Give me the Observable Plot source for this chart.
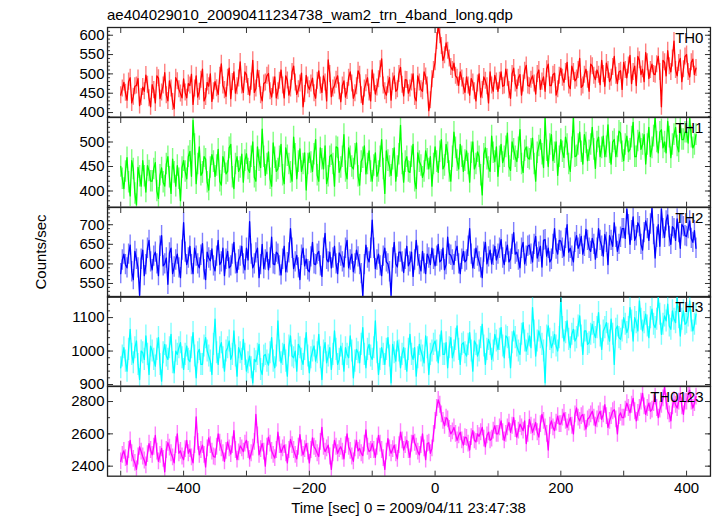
<!DOCTYPE html>
<html><head><meta charset="utf-8">
<script src="https://cdn.jsdelivr.net/npm/d3@7"></script>
<script src="https://cdn.jsdelivr.net/npm/@observablehq/plot@0.6"></script>
<style>
body{margin:0;background:#fff;}
#chart{position:relative;width:717px;height:516px;font-family:"Liberation Sans",Arial,Helvetica,sans-serif;color:#000;overflow:hidden;}
.title{position:absolute;left:107px;top:6px;font-size:15px;line-height:18px;white-space:nowrap;}
.ylab{position:absolute;left:41px;top:252px;transform:translate(-50%,-50%) rotate(-90deg);font-size:15px;line-height:18px;white-space:nowrap;}
.xlab{position:absolute;left:107px;width:603px;top:500px;text-align:center;font-size:15px;line-height:15px;white-space:nowrap;}
</style></head>
<body><div id="chart">
<div class="title">ae404029010_20090411234738_wam2_trn_4band_long.qdp</div>
<div class="ylab">Counts/sec</div>
<div class="xlab">Time [sec] 0 = 2009/04/11 23:47:38</div>
</div>
<script>
// readings at t = -500 + 5k ("a") and t = -497.5 + 5k ("b"), seconds
const tStartA = -500, tStartB = -497.5, tStep = 5;

const th0a = [
445,478,432,490,441,470,418,466,497,437,
472,425,489,452,503,430,462,410,481,449,
487,438,470,421,495,454,512,440,468,429,
480,447,526,458,490,436,505,468,531,452,
498,445,535,462,487,430,478,501,440,492,
455,510,438,483,462,520,447,475,415,496,
460,489,437,508,452,478,536,441,470,495,
428,482,456,505,437,468,498,421,476,452,
510,448,486,539,455,472,432,495,460,517,
443,484,462,500,430,478,455,493,405,486,
530,625,572,548,560,518,528,490,505,468,
492,445,478,430,500,458,482,425,470,496,
455,505,470,490,437,515,462,498,475,522,
468,495,448,510,480,455,525,470,502,460,
515,478,530,462,505,488,540,470,512,455,
520,485,498,535,468,510,490,545,475,508,
530,490,548,505,470,535,512,555,488,525,
498,545,415,530,560,505,585,495,540,512,
550,492,538,515];
const th0b = [
462,451,480,425,468,488,440,455,472,415,
458,495,436,470,445,482,427,490,460,438,
452,475,499,462,440,485,430,478,500,455,
463,495,470,442,515,479,450,488,470,505,
466,480,452,510,445,475,495,455,470,438,
482,470,495,445,505,478,460,502,448,470,
475,450,482,470,495,430,500,462,485,455,
470,440,490,475,450,508,445,462,490,430,
478,465,512,470,445,490,480,455,500,472,
485,450,478,440,495,460,505,470,432,510,
585,600,535,580,540,510,495,470,488,452,
470,488,455,475,440,492,468,505,455,480,
482,468,512,458,500,475,490,445,508,470,
485,475,500,460,492,512,470,498,445,495,
490,505,470,520,482,510,465,498,485,525,
495,510,472,500,528,480,518,495,505,460,
510,522,475,520,545,498,480,530,510,500,
525,505,535,495,520,540,510,528,480,545,
505,530,498];

const th1a = [
450,405,468,390,445,372,430,462,398,441,
420,458,385,447,410,470,395,438,452,380,
462,425,481,544,415,490,438,465,402,474,
430,485,412,458,440,495,405,470,448,418,
476,438,500,420,462,526,432,480,410,468,
445,495,415,472,438,510,425,486,455,402,
478,440,505,420,465,492,430,474,410,488,
448,515,425,470,445,498,412,468,435,482,
420,478,440,505,395,462,432,488,450,534,
418,470,438,495,405,460,428,482,445,410,
490,438,505,452,478,420,520,462,495,440,
482,418,500,455,470,392,488,448,512,460,
430,495,470,518,442,485,460,525,438,490,
465,508,420,492,475,548,450,515,478,432,
505,468,495,440,550,472,520,455,498,482,
530,446,510,488,470,535,455,505,490,518,
462,512,485,540,470,520,495,455,530,488,
550,478,525,500,542,468,515,492,538,505,
520,548,488,515];
const th1b = [
425,440,418,462,395,448,410,430,452,420,
445,400,432,418,455,428,465,410,425,448,
440,470,430,495,455,432,470,418,448,460,
452,420,470,435,488,428,455,440,475,462,
445,470,428,490,448,470,455,425,498,440,
470,432,488,455,420,475,460,440,478,455,
458,475,432,488,445,415,470,455,490,438,
470,440,488,450,475,430,460,492,455,440,
452,430,470,445,482,450,465,420,475,455,
460,440,470,420,478,452,440,465,470,455,
460,480,445,495,440,470,488,445,470,462,
455,478,445,480,432,475,465,440,478,490,
470,458,490,450,500,470,488,455,482,468,
485,455,478,505,448,482,495,462,500,470,
480,510,455,488,470,495,480,515,462,495,
485,500,470,512,490,478,500,470,522,480,
495,480,510,470,502,485,515,495,470,512,
500,520,488,478,510,495,530,480,505,520,
498,510,495];

const th2a = [
575,625,590,648,560,612,520,635,598,660,
585,630,570,672,600,548,640,592,625,565,
705,598,645,575,620,590,652,560,615,638,
582,660,605,570,632,595,655,578,620,600,
640,708,590,628,565,650,610,585,668,598,
625,572,645,603,690,588,622,560,640,612,
580,655,598,632,568,678,605,590,645,575,
620,592,660,610,580,635,598,518,648,605,
712,588,625,570,640,600,520,655,592,630,
578,645,605,568,660,598,632,575,615,640,
595,650,610,585,668,622,598,645,575,632,
610,690,590,640,605,565,655,618,600,645,
625,662,598,648,612,680,630,590,655,620,
648,605,670,630,592,662,640,612,690,625,
658,620,700,640,605,672,650,625,688,640,
665,612,690,645,675,598,660,705,632,668,
690,740,650,720,672,695,635,710,660,742,
615,700,740,668,725,650,690,715,640,695,
670,710,655,640];
const th2b = [
610,598,625,580,632,590,612,570,640,605,
620,600,645,595,615,628,575,610,590,635,
630,615,598,640,600,622,585,630,608,595,
620,598,640,612,590,625,600,610,645,585,
610,625,600,640,598,588,630,615,600,630,
595,612,580,628,640,605,590,622,595,585,
618,600,625,595,640,612,630,615,600,628,
605,640,590,625,600,618,575,598,615,640,
640,610,595,620,605,580,615,600,630,605,
612,595,630,610,620,582,600,625,598,612,
620,605,640,598,625,610,632,600,612,605,
645,625,612,620,590,630,600,635,622,610,
640,615,630,605,650,625,610,640,600,645,
625,650,615,645,660,620,605,650,638,660,
640,665,630,620,655,640,670,645,660,632,
650,640,660,620,655,672,645,668,650,690,
665,700,685,660,705,650,680,690,702,675,
668,645,690,710,670,695,660,680,700,672,
690,665,685];

const th3a = [
950,1010,940,1065,965,1030,915,995,1045,930,
1000,955,1040,910,1020,975,1050,935,990,1025,
945,1015,968,1055,920,1005,960,1040,985,930,
1095,960,1025,940,1010,975,1060,925,995,1035,
940,985,905,968,1020,930,990,958,1040,950,
1090,965,1020,925,1045,980,940,1010,960,1055,
935,1000,970,1050,915,1025,985,945,1060,960,
1015,940,990,1045,920,1005,965,1070,950,1020,
975,1090,930,1010,960,1040,905,995,1030,950,
1010,940,1050,975,925,1020,985,1045,930,1000,
1030,965,1060,990,950,1040,1000,1075,960,1025,
985,1055,940,1020,1000,1080,960,1035,975,1050,
1005,1070,980,1040,950,1060,1015,990,1085,1000,
1045,1130,985,1060,1020,905,1075,1010,1050,1000,
1162,1030,1090,1010,1065,1040,1105,990,1060,1025,
1080,1040,1115,1005,1070,1050,1095,960,1075,1035,
1100,1055,1130,1030,1085,1150,1060,1110,1040,1125,
1070,1160,1050,1105,1140,1065,1095,1160,1045,1120,
1085,1150,1060,1110];
const th3b = [
985,970,1005,990,1010,960,1000,975,990,1015,
975,1005,960,995,985,1010,965,1000,1010,980,
990,975,1010,985,995,960,1015,1000,970,1020,
995,1010,980,1000,1030,990,985,1010,975,990,
965,950,975,990,945,985,970,995,970,985,
1000,990,970,1015,985,1000,1020,975,1005,985,
980,1015,995,980,1000,965,1010,990,1005,975,
990,1010,980,1000,970,995,1020,990,1005,985,
1010,995,975,990,1005,985,1020,970,1000,990,
975,1005,990,1010,980,1000,965,1010,990,1020,
1000,1015,990,1025,1010,980,1035,1005,1020,995,
1020,1000,1030,985,1040,1015,1005,1020,1000,1030,
1035,1015,1045,1010,1025,1040,1000,1050,1030,1020,
1010,1060,1030,1040,1000,1045,1035,1025,1015,1040,
1070,1055,1035,1050,1030,1075,1045,1060,1020,1050,
1055,1070,1045,1060,1085,1030,1050,1065,1040,1060,
1080,1070,1090,1100,1060,1095,1085,1075,1100,1080,
1095,1110,1080,1090,1075,1120,1085,1100,1095,1080,
1105,1090,1080];

const th0123a = [
2430,2495,2410,2560,2445,2380,2520,2460,2405,2540,
2470,2590,2430,2510,2365,2545,2480,2420,2600,2495,
2440,2560,2505,2420,2705,2470,2530,2395,2575,2490,
2455,2600,2510,2430,2550,2475,2620,2440,2525,2490,
2560,2445,2515,2720,2470,2540,2400,2580,2495,2450,
2610,2485,2530,2420,2565,2500,2445,2595,2470,2540,
2420,2575,2505,2460,2640,2490,2530,2380,2560,2480,
2520,2445,2600,2495,2430,2560,2510,2465,2625,2490,
2540,2455,2590,2500,2380,2570,2480,2530,2445,2610,
2500,2560,2455,2590,2520,2470,2600,2440,2545,2510,
2680,2810,2720,2650,2690,2600,2640,2560,2610,2530,
2575,2500,2620,2550,2585,2640,2520,2610,2570,2650,
2600,2680,2560,2640,2610,2700,2580,2660,2620,2540,
2690,2610,2670,2580,2720,2640,2500,2680,2620,2710,
2660,2730,2640,2700,2600,2760,2680,2720,2630,2700,
2740,2650,2720,2690,2780,2640,2710,2750,2600,2730,
2700,2790,2730,2820,2680,2760,2850,2720,2790,2750,
2830,2700,2780,2890,2740,2680,2810,2760,2850,2720,
2800,2870,2760,2830];
const th0123b = [
2470,2450,2500,2480,2420,2460,2490,2435,2475,2500,
2520,2490,2470,2445,2500,2515,2455,2530,2480,2460,
2505,2480,2455,2530,2550,2500,2470,2510,2530,2460,
2520,2545,2480,2495,2510,2530,2500,2485,2510,2540,
2500,2480,2550,2590,2505,2490,2520,2540,2470,2500,
2530,2510,2480,2500,2530,2470,2520,2510,2505,2490,
2500,2520,2480,2550,2520,2510,2460,2480,2520,2505,
2490,2530,2520,2460,2510,2495,2480,2540,2520,2500,
2500,2520,2540,2450,2490,2510,2505,2480,2530,2560,
2530,2500,2540,2545,2490,2530,2510,2540,2480,2600,
2760,2780,2680,2700,2630,2615,2600,2590,2560,2580,
2540,2580,2560,2600,2610,2570,2590,2560,2620,2600,
2640,2610,2600,2670,2650,2630,2620,2640,2680,2600,
2650,2640,2610,2660,2680,2600,2650,2640,2670,2660,
2700,2680,2670,2650,2720,2700,2710,2670,2690,2720,
2700,2690,2740,2720,2710,2680,2740,2690,2710,2700,
2750,2760,2780,2740,2730,2800,2770,2760,2740,2790,
2760,2750,2820,2800,2720,2770,2780,2800,2770,2800,
2840,2800,2790];

const bandNames = ["TH0", "TH1", "TH2", "TH3", "TH0123"];
const bandA = [th0a, th1a, th2a, th3a, th0123a];
const bandB = [th0b, th1b, th2b, th3b, th0123b];
// typical 1-sigma error bar half-length of each band (counts/sec)
const bandErr = [22, 22, 26, 33, 52];
const yDomains = [[388, 620], [367, 550], [515, 744], [895, 1163], [2338, 2893]];
const yMajorTicks = [[400, 450, 500, 550, 600], [400, 450, 500, 550], [550, 600, 650, 700], [900, 1000, 1100], [2400, 2600, 2800]];
const yMinorStep = [10, 10, 10, 20, 100];
const yTickLabels = [[400, 450, 500, 550, 600], [400, 450, 500], [550, 600, 650, 700], [900, 1000, 1100], [2400, 2600, 2800]];
const xMajorTicks = [-500, -400, -300, -200, -100, 0, 100, 200, 300, 400];
const xTickLabels = [-400, -200, 0, 200, 400];
const xDomain = [-521, 438];
const colors = ["#ff0000", "#00ff00", "#0000ff", "#00ffff", "#ff00ff"];

const chart = document.getElementById("chart");
const top0 = 27.3, ph = 89.7;
const font = "'Liberation Sans', Arial, Helvetica, sans-serif";

bandA.forEach((valsA, i) => {
  const e = bandErr[i];
  const data = valsA.map((v, k) => ({t: tStartA + k * tStep, v}))
    .concat(bandB[i].map((v, k) => ({t: tStartB + k * tStep, v})))
    .sort((p, q) => p.t - q.t);
  const isLast = i === bandA.length - 1;
  const mt = 4, mb = isLast ? 32 : 4;
  const [d0, d1] = yDomains[i];
  const st = yMinorStep[i];
  const minor = d3.range(Math.ceil(d0 / st) * st, d1 + 0.001, st);
  const tickStyle = {fill: "none", label: null, stroke: "#333", strokeWidth: 1};
  const plot = Plot.plot({
    width: 717,
    height: ph + mt + mb,
    marginLeft: 107, marginRight: 7, marginTop: mt, marginBottom: mb,
    x: {domain: xDomain},
    y: {domain: yDomains[i]},
    style: {fontFamily: font, fontSize: "15px", color: "#000", background: "transparent", overflow: "visible"},
    marks: [
      Plot.ruleX(data, {x: "t", y1: d => d.v - e, y2: d => d.v + e, stroke: colors[i], strokeOpacity: 0.5, strokeWidth: 1.4, clip: true}),
      Plot.line(data, {x: "t", y: "v", stroke: colors[i], strokeWidth: 1.3, clip: true}),
      Plot.axisY(minor, {anchor: "left", tickSize: -3, ...tickStyle}),
      Plot.axisY(minor, {anchor: "right", tickSize: -3, ...tickStyle}),
      Plot.axisY(yMajorTicks[i], {anchor: "left", tickSize: -6, ...tickStyle}),
      Plot.axisY(yMajorTicks[i], {anchor: "right", tickSize: -6, ...tickStyle}),
      Plot.axisY(yTickLabels[i], {anchor: "left", tickSize: 0, tickPadding: 3, label: null, fontSize: 15, tickFormat: d3.format("d")}),
      Plot.axisX(xMajorTicks, {anchor: "top", tickSize: -5, ...tickStyle}),
      Plot.axisX(xMajorTicks, {anchor: "bottom", tickSize: -5, ...tickStyle}),
      isLast ? Plot.axisX(xTickLabels, {anchor: "bottom", tickSize: 0, tickPadding: 6, label: null, fontSize: 15}) : null,
      Plot.frame({stroke: "#222", strokeWidth: 1.3}),
      Plot.text([bandNames[i]], {text: d => d, frameAnchor: "top-right", textAnchor: "end", lineAnchor: "top", dx: -7, dy: 4.5, fontSize: 15, fill: "#000"})
    ]
  });
  plot.style.position = "absolute";
  plot.style.left = "0px";
  plot.style.top = (top0 + i * ph - mt) + "px";
  chart.appendChild(plot);
});
</script>
</body></html>
